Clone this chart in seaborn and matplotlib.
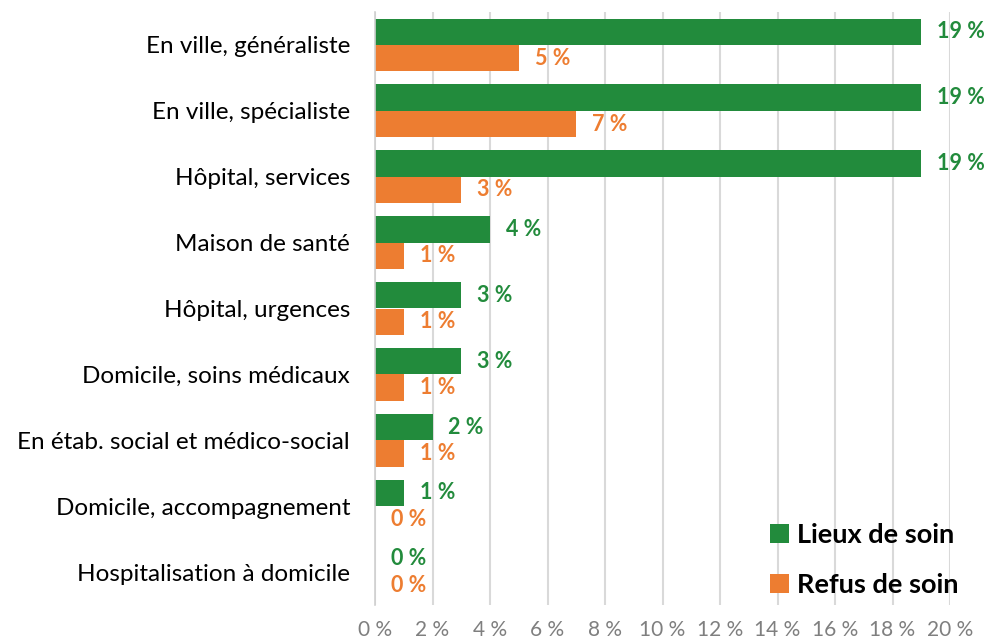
import pandas as pd
import numpy as np
import matplotlib.pyplot as plt
import seaborn as sns

## Data
categories = ['En ville, généraliste', 'En ville, spécialiste', 'Hôpital, services',
              'Maison de santé', 'Hôpital, urgences', 'Domicile, soins médicaux',
              'En étab. social et médico-social', 'Domicile, accompagnement',
              'Hospitalisation à domicile']
lieux = [19, 19, 19, 4, 3, 3, 2, 1, 0]
refus = [5, 7, 3, 1, 1, 1, 1, 0, 0]
series = ['Lieux de soin', 'Refus de soin']
colors = ['#228B3C', '#ED7D31']
xticks = [0, 2, 4, 6, 8, 10, 12, 14, 16, 18, 20]

df = pd.DataFrame({'Catégorie': categories * 2,
                   'Valeur': lieux + refus,
                   'Série': [series[0]] * len(categories) + [series[1]] * len(categories)})

sns.set_style('white')
plt.rcParams['font.family'] = ['Lato', 'DejaVu Sans']

fig = plt.figure(figsize=(9.91, 6.43), dpi=100)
ax = fig.add_axes([375 / 991, 38 / 643, 575 / 991, 593 / 643])

sns.barplot(data=df, y='Catégorie', x='Valeur', hue='Série', palette=colors,
            orient='h', width=0.8, saturation=1, linewidth=0, ax=ax, legend=True)

## value labels
for cont, col in zip(ax.containers, colors):
    ax.bar_label(cont, labels=[f'{v:.0f} %' for v in cont.datavalues], padding=11.5,
                 color=col, fontsize=15.5, fontweight='bold')

ax.set_xlim(0, 20)
ax.set_ylim(len(categories) - 0.5, -0.5)
ax.set_xticks(xticks)
ax.set_xticklabels([f'{t} %' for t in xticks], color='#7f7f7f', fontsize=15)
ax.tick_params(axis='x', length=0, pad=11)
ax.tick_params(axis='y', which='major', length=0, pad=18, labelsize=17.5, labelcolor='black')
ax.set_yticks(np.arange(-0.5, len(categories)), minor=True)
ax.tick_params(axis='y', which='minor', length=5, color='#d0d0d0', width=1.2)
ax.grid(axis='x', color='#d9d9d9', linewidth=1.5)
ax.set_axisbelow(True)
for s in ['top', 'right', 'bottom']:
    ax.spines[s].set_visible(False)
ax.spines['left'].set_color('#d0d0d0')
ax.spines['left'].set_linewidth(1.2)
ax.set_xlabel('')
ax.set_ylabel('')

leg = ax.legend(loc='lower right', bbox_to_anchor=(1.058, -0.027), frameon=False,
                prop={'size': 19.5, 'weight': 'bold'}, handlelength=0.7, handleheight=0.7,
                handletextpad=0.3, labelspacing=0.95, labelcolor='black')

fig.savefig('out.png', dpi=100)
